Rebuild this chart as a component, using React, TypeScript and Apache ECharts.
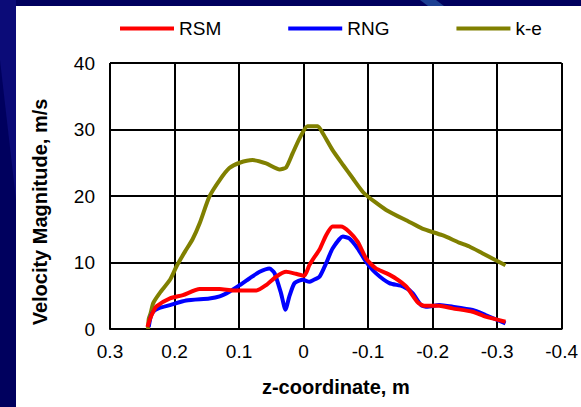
import React, { useEffect, useRef } from "react";
import * as echarts from "echarts";

// z-coordinate (m) and velocity magnitude (m/s) for each turbulence model
const rsmZ = [0.242, 0.238, 0.233, 0.228, 0.207, 0.187, 0.161, 0.13, 0.109, 0.073, 0.058, 0.042, 0.027, 0.012, -0.001, -0.009, -0.014, -0.025, -0.035, -0.045, -0.058, -0.071, -0.084, -0.097, -0.112, -0.128, -0.143, -0.159, -0.177, -0.187, -0.21, -0.231, -0.262, -0.282, -0.313];
const rsmV = [0.3, 1.5, 2.6, 3.4, 4.6, 5.1, 6.0, 6.0, 5.8, 5.8, 6.6, 7.9, 8.6, 8.3, 8.0, 9.6, 10.4, 12.0, 14.1, 15.4, 15.4, 14.6, 13.1, 10.6, 9.1, 8.4, 7.6, 6.4, 4.0, 3.5, 3.5, 3.1, 2.6, 1.85, 1.1];

const rngZ = [0.24, 0.237, 0.233, 0.225, 0.207, 0.182, 0.146, 0.13, 0.115, 0.099, 0.084, 0.068, 0.053, 0.045, 0.035, 0.028, 0.022, 0.014, 0.001, -0.009, -0.014, -0.025, -0.035, -0.045, -0.061, -0.071, -0.084, -0.097, -0.112, -0.133, -0.154, -0.169, -0.182, -0.192, -0.21, -0.231, -0.262, -0.282, -0.313];
const rngV = [0.3, 1.8, 2.6, 3.1, 3.6, 4.3, 4.6, 4.9, 5.6, 6.6, 7.6, 8.6, 9.1, 8.4, 5.4, 2.9, 4.9, 6.9, 7.4, 7.1, 7.3, 7.9, 9.9, 12.1, 13.9, 13.6, 12.1, 10.1, 8.4, 6.9, 6.4, 5.4, 3.6, 3.35, 3.6, 3.35, 2.85, 2.1, 0.85];

const keZ = [0.241, 0.24, 0.237, 0.233, 0.223, 0.207, 0.197, 0.184, 0.172, 0.161, 0.146, 0.13, 0.115, 0.099, 0.079, 0.058, 0.037, 0.027, 0.017, 0.006, -0.006, -0.022, -0.03, -0.045, -0.061, -0.076, -0.094, -0.128, -0.164, -0.184, -0.215, -0.241, -0.257, -0.277, -0.313];
const keV = [0, 1.5, 2.4, 3.9, 5.4, 7.4, 9.4, 11.6, 13.5, 15.9, 19.9, 22.4, 24.2, 25.0, 25.4, 24.9, 24.0, 24.3, 26.4, 28.7, 30.5, 30.5, 29.4, 26.9, 24.7, 22.7, 20.4, 17.9, 16.1, 15.1, 14.1, 13.0, 12.4, 11.4, 9.6];

const seriesNames = ["RSM", "RNG", "k-e"];
const seriesColors = ["#ff0000", "#0000ff", "#808000"];

const yTitle = "Velocity Magnitude, m/s";
const xTitle = "z-coordinate, m";

const pairs = (zs: number[], vs: number[]) => zs.map((z, i) => [z, vs[i]]);

const FONT = "'Liberation Sans', Arial, sans-serif";

export default function App() {
  const ref = useRef<HTMLDivElement>(null);

  useEffect(() => {
    if (!ref.current) return;
    const chart = echarts.init(ref.current, undefined, { renderer: "svg" });
    const dataSets = [pairs(rsmZ, rsmV), pairs(rngZ, rngV), pairs(keZ, keV)];

    chart.setOption({
      animation: false,
      backgroundColor: "#00005e",
      textStyle: { fontFamily: FONT },
      graphic: [
        {
          type: "polygon",
          silent: true,
          z: -10,
          shape: { points: [[0, 0], [16, 0], [16, 200], [0, 60]] },
          style: { fill: "#0b0b78" },
        },
        {
          type: "polygon",
          silent: true,
          z: -10,
          shape: { points: [[420, 0], [436, 0], [444, 6], [428, 6]] },
          style: { fill: "#1c3f92" },
        },
        {
          type: "rect",
          silent: true,
          z: -9,
          shape: { x: 16, y: 6, width: 565, height: 401 },
          style: { fill: "#ffffff" },
        },
        {
          type: "text",
          silent: true,
          x: 40,
          y: 212,
          rotation: Math.PI / 2,
          style: {
            text: yTitle,
            fontSize: 20,
            fontWeight: "bold",
            fontFamily: FONT,
            fill: "#000",
            align: "center",
            verticalAlign: "middle",
          },
        },
      ],
      legend: {
        left: 115,
        top: 14,
        itemWidth: 54,
        itemHeight: 4,
        itemGap: 67,
        icon: "rect",
        data: seriesNames,
        textStyle: { fontSize: 19, color: "#000", fontFamily: FONT },
      },
      grid: { left: 110, right: 18, top: 63, bottom: 78 },
      xAxis: {
        type: "value",
        inverse: true,
        min: -0.4,
        max: 0.3,
        interval: 0.1,
        name: xTitle,
        nameLocation: "middle",
        nameGap: 48,
        nameTextStyle: { fontSize: 20, fontWeight: "bold", color: "#000", fontFamily: FONT },
        axisLine: { onZero: false, lineStyle: { color: "#000", width: 2 } },
        axisTick: { show: false },
        axisLabel: {
          fontSize: 19,
          color: "#000",
          margin: 13,
          fontFamily: FONT,
          formatter: (v: number) => String(parseFloat(v.toFixed(1))),
        },
        splitLine: { show: true, lineStyle: { color: "#000", width: 2 } },
      },
      yAxis: {
        type: "value",
        min: 0,
        max: 40,
        interval: 10,
        axisLine: { show: true, lineStyle: { color: "#000", width: 2 } },
        axisTick: { show: false },
        axisLabel: { fontSize: 19, color: "#000", margin: 15, fontFamily: FONT },
        splitLine: { show: true, lineStyle: { color: "#000", width: 2 } },
      },
      series: seriesNames.map((name, i) => ({
        name,
        type: "line",
        data: dataSets[i],
        showSymbol: false,
        smooth: 0.2,
        color: seriesColors[i],
        lineStyle: { width: 4, color: seriesColors[i] },
        z: 3 + (2 - i),
      })),
    });

    return () => chart.dispose();
  }, []);

  return (
    <div
      ref={ref}
      style={{ position: "fixed", left: 0, top: 0, width: 581, height: 407 }}
    />
  );
}
